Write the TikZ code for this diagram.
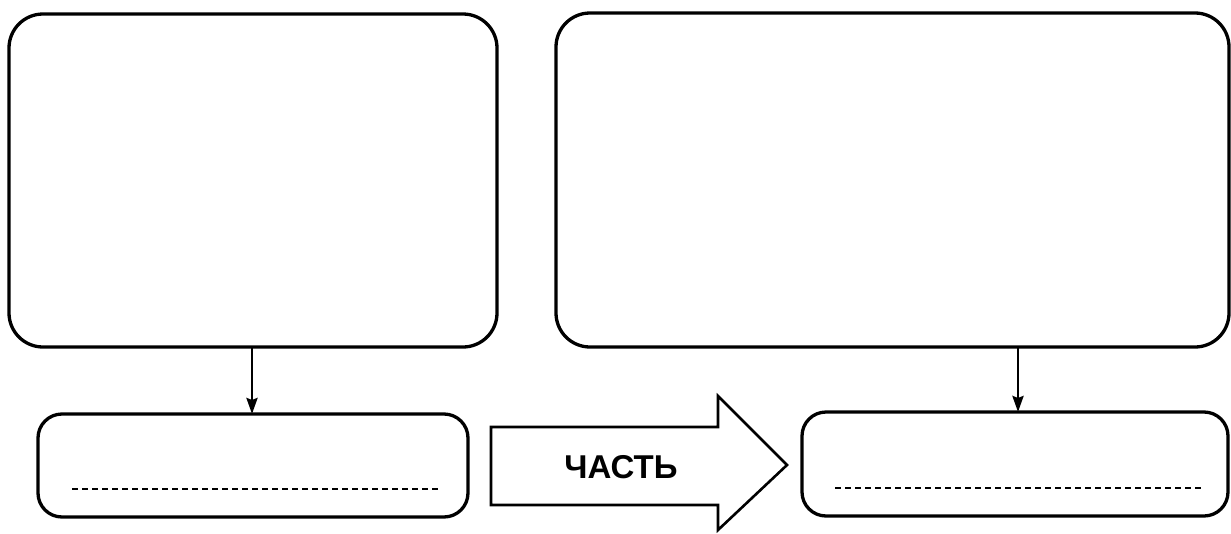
\documentclass[tikz,border=0pt]{standalone}
\usepackage{fontspec}
\setmainfont{Liberation Sans}
\usetikzlibrary{arrows.meta}
\begin{document}
\begin{tikzpicture}[x=1pt,y=-1pt,
  box/.style={draw=black,line width=3.3pt,rounded corners=34pt},
  smallbox/.style={draw=black,line width=3.3pt,rounded corners=24pt},
  conn/.style={line width=2.8pt,-{Stealth[length=16pt,width=11pt,inset=2pt]}},
  dline/.style={line width=1.5pt,dash pattern=on 6pt off 4pt},
  bigarrow/.style={draw=black,line width=2.6pt,line join=miter}]
\useasboundingbox (0,0) rectangle (1231,533);
\draw[box] (9,14) rectangle (497,347);
\coordinate (b1s) at (252,347);
\draw[box] (556,13) rectangle (1229,347);
\coordinate (b2s) at (1018,347);
\draw[smallbox] (38,414) rectangle (468,517);
\coordinate (s1n) at (252,414);
\draw[smallbox] (802,412) rectangle (1228,516);
\coordinate (s2n) at (1018,412);
\draw[conn] (b1s) -- (s1n);
\draw[conn] (b2s) -- (s2n);
\coordinate (d1a) at (72,489);
\coordinate (d1b) at (440,489);
\coordinate (d2a) at (835,488);
\coordinate (d2b) at (1202,488);
\draw[dline] (d1a) -- (d1b);
\draw[dline] (d2a) -- (d2b);
\draw[bigarrow] (491,427) -- (718,427) -- (718,396) -- (787,465) -- (718,530) -- (718,505) -- (491,505) -- cycle;
\node[font=\bfseries\fontsize{33}{36}\selectfont] (t) at (621,467) {ЧАСТЬ};
\end{tikzpicture}
\end{document}
